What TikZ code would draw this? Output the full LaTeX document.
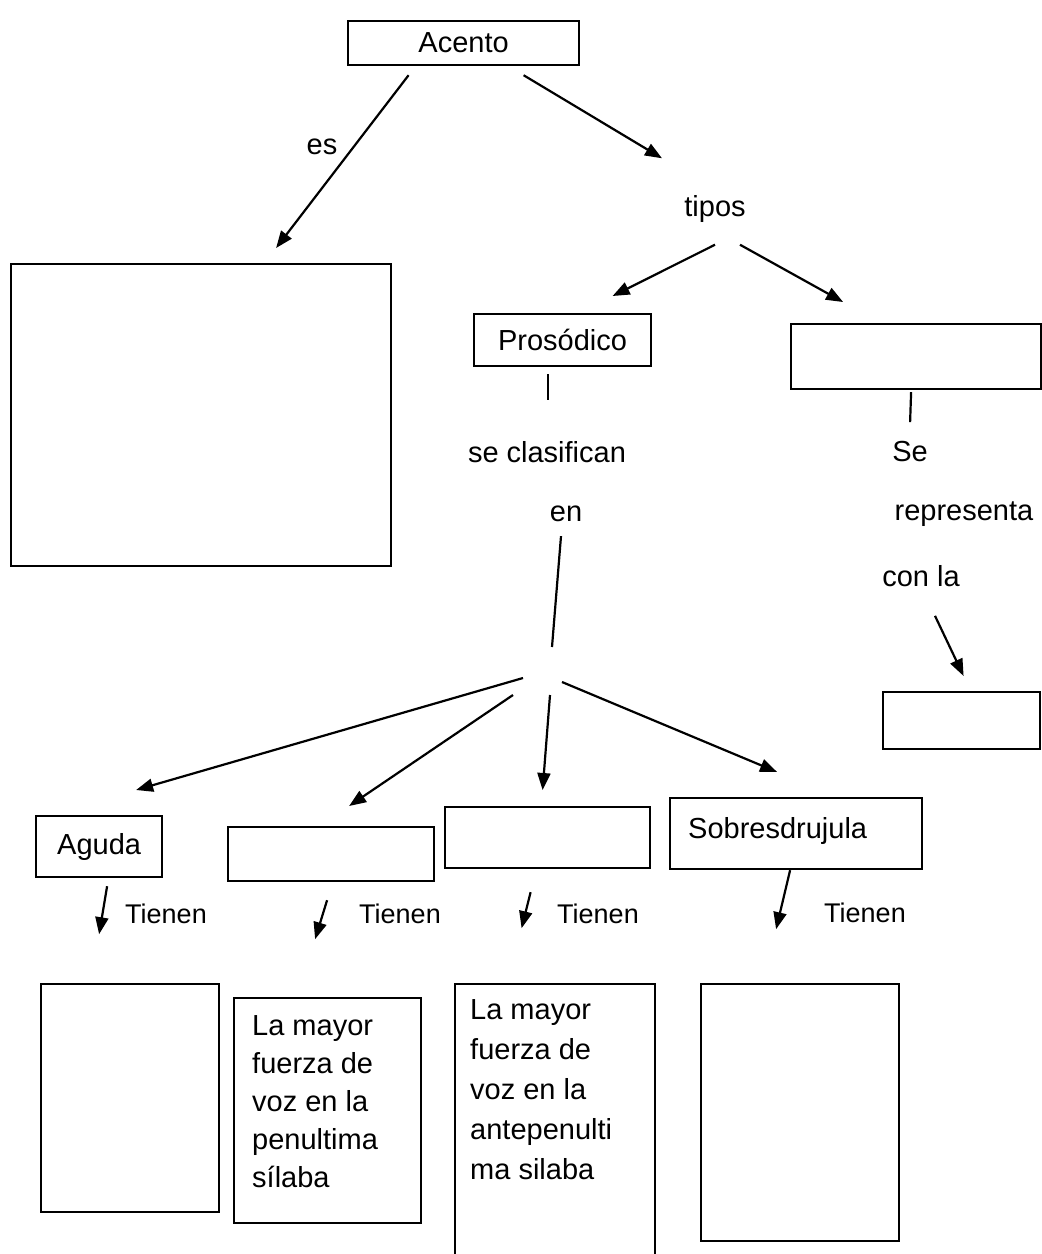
\documentclass[tikz,border=0pt]{standalone}
\usepackage{fontspec}
\setmainfont{Liberation Sans}
\usetikzlibrary{arrows.meta,calc}
\begin{document}
\begin{tikzpicture}[x=1pt,y=-1pt,
  box/.style={draw,line width=2.2pt,anchor=north west,inner sep=0pt},
  lbl/.style={font=\fontsize{29}{38}\selectfont,inner sep=0pt},
  tlbl/.style={font=\fontsize{27}{34}\selectfont,inner sep=0pt},
  btxt/.style={font=\fontsize{29}{38}\selectfont,inner sep=0pt,anchor=north west,align=left},
  arr/.style={line width=2.2pt,-{Triangle[length=17pt,width=13pt]}},
  ln/.style={line width=2.2pt}]
\useasboundingbox (0,0) rectangle (1042,1254);
\fill[white] (0,0) rectangle (1042,1254);
% boxes
\node[box,minimum width=231pt,minimum height=44pt,font=\fontsize{29}{38}\selectfont] (acento) at (347,20) {Acento};
\node[box,minimum width=380pt,minimum height=302pt] (left) at (10,263) {};
\node[box,minimum width=177pt,minimum height=52pt,font=\fontsize{29}{38}\selectfont] (pros) at (473,313) {Prosódico};
\node[box,minimum width=250pt,minimum height=65pt] (right) at (790,323) {};
\node[box,minimum width=157pt,minimum height=57pt] (small) at (882,691) {};
\node[box,minimum width=126pt,minimum height=61pt,font=\fontsize{29}{38}\selectfont] (aguda) at (35,815) {Aguda};
\node[box,minimum width=206pt,minimum height=54pt] (b2) at (227,826) {};
\node[box,minimum width=205pt,minimum height=61pt] (b3) at (444,806) {};
\node[box,minimum width=252pt,minimum height=71pt] (sobre) at (669,797) {};
\node[font=\fontsize{29}{38}\selectfont,inner sep=0pt,anchor=west] (sobretxt) at ($(sobre.west)+(19,-3)$) {Sobresdrujula};
\node[box,minimum width=178pt,minimum height=228pt] (bA) at (40,983) {};
\node[box,minimum width=187pt,minimum height=225pt] (bB) at (233,997) {};
\node[box,minimum width=200pt,minimum height=300pt] (bC) at (454,983) {};
\node[box,minimum width=198pt,minimum height=257pt] (bD) at (700,983) {};
\node[btxt] (tB) at ($(bB.north west)+(19,18)$) {La mayor\\fuerza de\\voz en la\\penultima\\sílaba};
\node[btxt,font=\fontsize{29}{40}\selectfont] (tC) at ($(bC.north west)+(16,16)$) {La mayor\\fuerza de\\voz en la\\antepenulti\\ma silaba};
% labels
\node[lbl] (es) at (322,147) {es};
\node[lbl] (tipos) at (715,209) {tipos};
\node[lbl] (clas) at (547,452) {se clasifican};
\node[lbl] (en) at (566,514) {en};
\node[lbl] (se) at (910,452) {Se};
\node[lbl] (repr) at (964,514) {representa};
\node[lbl] (conla) at (921,576) {con la};
\node[tlbl] (t1) at (166,914) {Tienen};
\node[tlbl] (t2) at (400,914) {Tienen};
\node[tlbl] (t3) at (598,914) {Tienen};
\node[tlbl] (t4) at (865,913) {Tienen};
\coordinate (hub) at (552,680);
% connectors
\draw[arr] ($(acento.south)+(-55,9)$) -- ($(left.north)+(75,-15)$);
\draw[arr] ($(acento.south)+(60,9)$) -- ($(tipos.north)+(-53,-37)$);
\draw[arr] ($(tipos.south)+(0,22)$) -- ($(pros.north)+(50,-17)$);
\draw[arr] ($(tipos.south)+(25,22)$) -- ($(right.north)+(-73,-21)$);
\draw[ln] ($(pros.south)+(-15,7)$) -- ($(pros.south)+(-15,33)$);
\draw[ln] ($(right.south)+(-5,2)$) -- ($(right.south)+(-6,32)$);
\draw[ln] ($(en.south)+(-5,14)$) -- ($(hub)+(0,-33)$);
\draw[arr] ($(conla.south)+(14,29)$) -- ($(small.north)+(2,-15)$);
\draw[arr] ($(hub)+(-29,-2)$) -- ($(aguda.north)+(37,-25)$);
\draw[arr] ($(hub)+(-39,15)$) -- ($(b2.north)+(18,-20)$);
\draw[arr] ($(hub)+(-2,15)$) -- ($(b3.north)+(-5,-16)$);
\draw[arr] ($(hub)+(10,2)$) -- ($(sobre.north)+(-19,-25)$);
\draw[arr] ($(aguda.south)+(8,8)$) -- ($(aguda.south)+(0,56)$);
\draw[arr] ($(b2.south)+(-4,18)$) -- ($(b2.south)+(-16,57)$);
\draw[arr] ($(b3.south)+(-17,23)$) -- ($(b3.south)+(-26,59)$);
\draw[arr] ($(sobre.south)+(-6,0)$) -- ($(sobre.south)+(-20,59)$);
\end{tikzpicture}
\end{document}
